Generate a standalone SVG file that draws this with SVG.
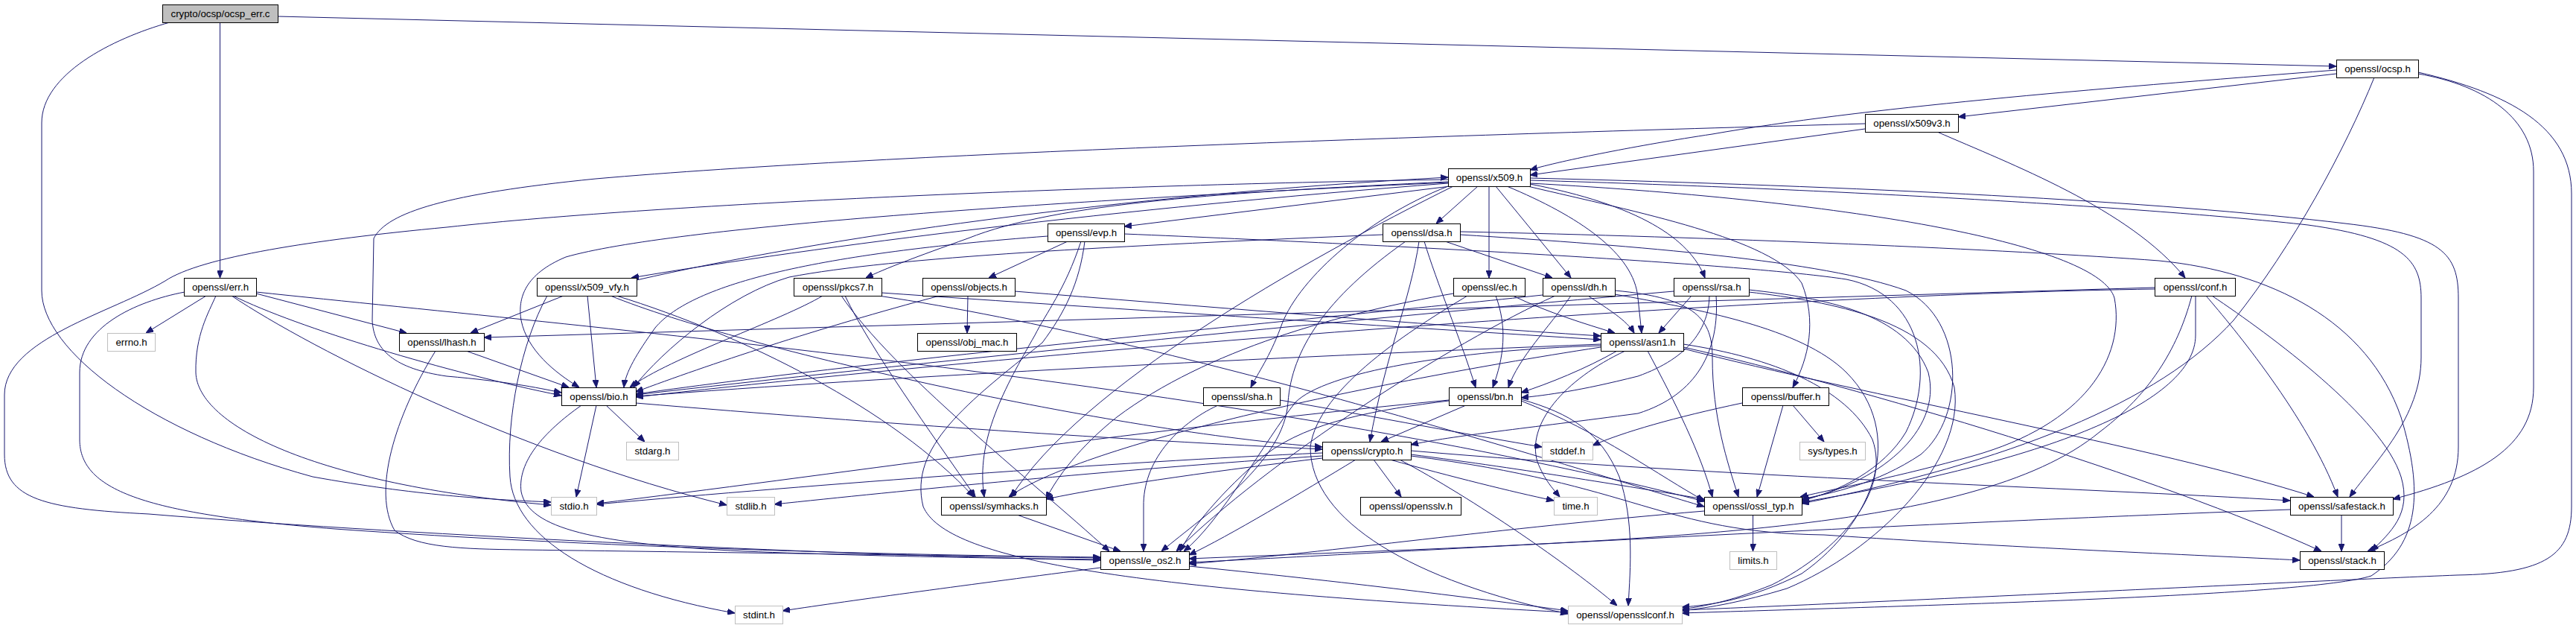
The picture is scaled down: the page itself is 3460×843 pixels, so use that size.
<svg xmlns="http://www.w3.org/2000/svg" width="3460" height="843" viewBox="0 0 3460 843">
<style>
.n rect{fill:#fff;stroke:#000;stroke-width:1}
.n.g rect{stroke:#bfbfbf}
.n.r rect{fill:#bfbfbf}
text{font-family:"Liberation Sans",Arial,Helvetica,sans-serif;font-size:13.3px;text-anchor:middle;fill:#000}
#edges path{fill:none;stroke:#191970;stroke-width:1;marker-end:url(#a)}
</style>
<defs>
<marker id="a" markerUnits="userSpaceOnUse" markerWidth="10" markerHeight="8" refX="10" refY="4" orient="auto" viewBox="0 0 10 8"><path d="M0,0 L10,4 L0,8 z" fill="#191970" stroke="#191970" stroke-width="1"/></marker>
</defs>
<rect x="0" y="0" width="3460" height="843" fill="#fff"/>
<g id="edges">
<path d="M373,22 L3138,89"/>
<path d="M295.5,30 L295.5,373"/>
<path d="M228,30 C150,52 56,100 56,165 L56,390 C56,470 200,580 420,640 C560,665 650,670 740,674"/>
<path d="M3138,99 L2630,157"/>
<path d="M3138,94 C2800,120 2500,145 2300,180 C2200,195 2100,215 2055,228"/>
<path d="M3189,104 C3150,200 3080,330 3000,430 C2900,540 2700,620 2420,676"/>
<path d="M3248,99 C3340,115 3403,160 3403,230 L3403,520 C3403,600 3330,640 3214,670"/>
<path d="M3248,97 C3370,125 3454,170 3454,260 L3454,680 C3454,745 3420,770 3300,772 C3100,780 2600,805 2259,819"/>
<path d="M2505,173 L2055,235"/>
<path d="M2602,177 C2700,220 2860,280 2935,373"/>
<path d="M2505,166 C2000,180 1200,205 800,240 C600,260 520,285 502,320 L500,430 C502,470 530,495 600,505 C680,512 720,520 754,527"/>
<path d="M1945,246 C1500,280 1100,330 848,373"/>
<path d="M1945,244 C1650,258 1420,272 1300,320 C1230,345 1190,360 1163,373"/>
<path d="M1948,250 L1510,304"/>
<path d="M1985,250 L1929,300"/>
<path d="M2000,250 L2000,373"/>
<path d="M2009,250 L2110,373"/>
<path d="M2055,247 C2200,275 2270,320 2290,373"/>
<path d="M2024,250 C2120,290 2195,340 2200,400 L2205,447"/>
<path d="M1945,241 C1500,248 900,272 600,305 C420,322 270,345 222,377 C150,420 6,455 6,530 L6,610 C6,670 60,683 200,690 C500,715 1100,745 1478,752"/>
<path d="M1945,245 C1400,270 900,305 760,345 C705,368 695,400 700,430 C708,470 745,500 778,520"/>
<path d="M2055,239 C2500,250 2900,270 3150,300 C3280,315 3302,340 3302,400 L3302,600 C3302,680 3240,715 3180,740"/>
<path d="M2055,242 C2500,255 2900,280 3100,302 C3230,320 3252,350 3252,400 L3252,480 C3252,560 3190,620 3156,667"/>
<path d="M2052,250 C2200,285 2380,320 2420,380 C2440,430 2430,480 2408,520"/>
<path d="M2055,246 C2500,270 2820,330 2840,400 C2855,480 2800,570 2650,612 C2550,640 2470,655 2418,667"/>
<path d="M1945,250 C1830,295 1740,380 1720,440 C1705,480 1690,500 1680,520"/>
<path d="M1952,250 C1750,350 1450,520 1358,667"/>
<path d="M1407,317 C1100,340 930,380 880,440 C855,475 840,500 838,520"/>
<path d="M1434,324 L1328,373"/>
<path d="M1452,324 C1430,390 1405,420 1390,450 C1350,520 1310,590 1322,667"/>
<path d="M1457,324 C1450,380 1430,420 1400,460 C1300,540 1220,600 1240,680 C1270,750 1500,790 2106,822"/>
<path d="M1510,314 C1900,330 2350,355 2480,375 C2580,395 2600,500 2560,580 C2530,630 2470,660 2420,672"/>
<path d="M1857,315 C1500,330 1200,345 1060,372 C980,395 890,470 851,520"/>
<path d="M1941,324 L2085,373"/>
<path d="M1913,324 C1930,380 1960,450 1982,520"/>
<path d="M1906,324 C1895,400 1860,480 1840,593"/>
<path d="M1888,324 C1780,400 1735,470 1730,540 C1725,620 1620,690 1560,740"/>
<path d="M1961,315 C2200,330 2450,350 2560,390 C2640,430 2640,560 2580,610 C2520,650 2460,662 2420,670"/>
<path d="M1961,311 C2300,318 2700,335 2900,350 C3050,365 3180,430 3225,560 C3255,660 3250,730 3185,773 C3100,800 2600,812 2259,823"/>
<path d="M277,397 L196,447"/>
<path d="M290,397 C280,420 262,450 263,500 C265,570 420,650 740,678"/>
<path d="M248,392 C180,405 107,440 107,500 L107,590 C107,660 200,690 450,710 C800,735 1200,745 1478,748"/>
<path d="M311,397 C420,470 700,610 976,678"/>
<path d="M313,397 C400,440 600,500 754,531"/>
<path d="M344,394 L546,447"/>
<path d="M344,392 C800,440 1700,520 2289,673"/>
<path d="M855,376 C1100,320 1500,262 1945,238"/>
<path d="M757,397 L632,447"/>
<path d="M789,397 L801,520"/>
<path d="M820,397 C1000,470 1500,580 1776,600"/>
<path d="M828,397 C1000,450 1200,550 1308,667"/>
<path d="M735,397 C700,460 680,560 685,640 C690,720 800,790 987,823"/>
<path d="M1105,397 C1050,430 900,480 846,520"/>
<path d="M1130,397 C1200,500 1380,640 1490,740"/>
<path d="M1135,397 C1170,470 1250,580 1310,667"/>
<path d="M1184,393 C1500,415 1900,440 2150,456"/>
<path d="M1180,397 C1600,460 2150,640 2289,680"/>
<path d="M1300,397 L1299,447"/>
<path d="M1262,397 C1100,440 950,490 854,526"/>
<path d="M1363,391 C1600,410 1900,435 2150,451"/>
<path d="M1952,394 C1800,420 1620,470 1500,560 C1450,600 1420,640 1405,670"/>
<path d="M1971,397 C1900,440 1770,520 1760,600 C1760,700 1900,780 2106,824"/>
<path d="M2009,397 C2025,440 2020,480 2005,520"/>
<path d="M2032,397 C2080,420 2130,435 2169,447"/>
<path d="M2072,396 C1800,425 1200,480 854,529"/>
<path d="M2089,397 C1950,460 1700,620 1580,740"/>
<path d="M2110,397 C2080,440 2040,480 2026,520"/>
<path d="M2133,397 C2160,415 2185,430 2195,447"/>
<path d="M2169,390 C2280,400 2300,430 2300,480 C2300,560 2320,620 2335,667"/>
<path d="M2169,395 C2280,415 2420,440 2480,500 C2560,580 2520,700 2420,770 C2350,805 2300,812 2259,815"/>
<path d="M2272,397 L2228,447"/>
<path d="M2296,397 C2295,440 2270,480 2200,505 C2120,525 2080,530 2043,534"/>
<path d="M2305,397 C2310,470 2280,530 2200,555 C2050,575 1950,585 1895,597"/>
<path d="M2248,391 C1800,430 1200,490 854,530"/>
<path d="M2349,389 C2450,400 2560,420 2590,500 C2610,580 2520,650 2420,671"/>
<path d="M2349,392 C2460,405 2600,430 2625,520 C2640,620 2520,740 2400,790 C2340,808 2300,815 2259,820"/>
<path d="M2894,388 C2400,395 1500,460 854,533"/>
<path d="M2894,386 L650,453"/>
<path d="M2944,397 C2930,450 2900,520 2820,580 C2650,720 2200,725 1597,750"/>
<path d="M2949,397 L2949,450 C2949,540 2750,620 2420,674"/>
<path d="M2963,397 C3000,440 3100,560 3140,667"/>
<path d="M2971,397 C3050,450 3200,560 3225,640 C3240,690 3210,715 3185,740"/>
<path d="M626,471 L764,520"/>
<path d="M585,471 C530,560 500,660 530,712 C560,735 620,737 700,738 C1000,742 1300,746 1478,749"/>
<path d="M2150,462 C1700,480 1200,505 854,532"/>
<path d="M2172,471 C2130,495 2080,515 2043,527"/>
<path d="M2183,471 C2100,510 2050,570 2065,620 C2075,645 2085,655 2095,667"/>
<path d="M2213,471 C2250,540 2285,610 2300,667"/>
<path d="M2261,462 C2380,480 2480,520 2515,590 C2540,660 2470,740 2380,785 C2330,805 2300,812 2259,818"/>
<path d="M2150,464 C1950,470 1780,500 1740,540 C1700,590 1640,700 1590,740"/>
<path d="M2261,466 C2500,520 2900,640 3118,740"/>
<path d="M2261,468 C2500,530 2900,600 3108,667"/>
<path d="M2150,466 C1800,520 1450,600 1355,667"/>
<path d="M781,544 C730,580 695,620 700,660 C710,710 800,730 1000,740 C1200,748 1400,750 1478,751"/>
<path d="M801,544 L774,667"/>
<path d="M814,544 L866,593"/>
<path d="M854,541 C1200,570 1500,590 1776,603"/>
<path d="M1636,544 C1580,570 1535,620 1536,680 L1536,740"/>
<path d="M1719,537 C1850,560 1980,585 2071,600"/>
<path d="M1969,544 L1855,593"/>
<path d="M1946,537 C1500,580 1100,640 801,676"/>
<path d="M1946,538 C1850,550 1760,565 1700,610 C1640,660 1600,710 1585,740"/>
<path d="M2043,538 C2150,580 2230,640 2289,672"/>
<path d="M2043,536 C2110,555 2150,580 2175,640 C2195,700 2190,760 2187,813"/>
<path d="M2340,541 C2250,560 2180,580 2139,598"/>
<path d="M2395,544 L2360,667"/>
<path d="M2408,544 L2450,593"/>
<path d="M1776,608 C1500,620 1100,650 801,677"/>
<path d="M1776,612 C1500,630 1200,660 1040,677"/>
<path d="M1776,615 C1650,630 1500,650 1405,670"/>
<path d="M1821,617 C1750,660 1650,720 1597,745"/>
<path d="M1845,617 L1882,667"/>
<path d="M1867,617 C1950,640 2030,660 2087,672"/>
<path d="M1880,617 C1980,670 2110,760 2172,813"/>
<path d="M1895,610 C2050,630 2200,655 2289,670"/>
<path d="M1895,605 C2300,640 2800,655 3076,672"/>
<path d="M1895,612 C2200,650 2230,715 2450,718 C2700,735 2950,745 3089,752"/>
<path d="M2354.5,691 L2354.5,740"/>
<path d="M2289,686 C2000,710 1800,740 1597,757"/>
<path d="M1366,691 L1505,740"/>
<path d="M3145,691 L3145,740"/>
<path d="M3076,684 C2500,705 1900,740 1597,755"/>
<path d="M1597,760 C1800,780 2000,805 2106,820"/>
<path d="M1478,762 C1300,785 1150,805 1051,820"/>
</g>
<g id="n_ocsp_err" class="n r"><rect x="218.5" y="6.5" width="155" height="24"/><text x="296" y="23">crypto/ocsp/ocsp_err.c</text></g>
<g id="n_ocsp" class="n"><rect x="3138.5" y="80.5" width="110" height="24"/><text x="3193.5" y="97">openssl/ocsp.h</text></g>
<g id="n_x509v3" class="n"><rect x="2505.5" y="153.5" width="125" height="24"/><text x="2568" y="170">openssl/x509v3.h</text></g>
<g id="n_x509" class="n"><rect x="1945.5" y="226.5" width="110" height="24"/><text x="2000.5" y="243">openssl/x509.h</text></g>
<g id="n_dsa" class="n"><rect x="1857.5" y="300.5" width="104" height="24"/><text x="1909.5" y="317">openssl/dsa.h</text></g>
<g id="n_evp" class="n"><rect x="1407.5" y="300.5" width="103" height="24"/><text x="1459" y="317">openssl/evp.h</text></g>
<g id="n_err" class="n"><rect x="247.5" y="373.5" width="97" height="24"/><text x="296" y="390">openssl/err.h</text></g>
<g id="n_x509_vfy" class="n"><rect x="721.5" y="373.5" width="134" height="24"/><text x="788.5" y="390">openssl/x509_vfy.h</text></g>
<g id="n_pkcs7" class="n"><rect x="1066.5" y="373.5" width="118" height="24"/><text x="1125.5" y="390">openssl/pkcs7.h</text></g>
<g id="n_objects" class="n"><rect x="1239.5" y="373.5" width="124" height="24"/><text x="1301.5" y="390">openssl/objects.h</text></g>
<g id="n_ec" class="n"><rect x="1952.5" y="373.5" width="96" height="24"/><text x="2000.5" y="390">openssl/ec.h</text></g>
<g id="n_dh" class="n"><rect x="2072.5" y="373.5" width="97" height="24"/><text x="2121" y="390">openssl/dh.h</text></g>
<g id="n_rsa" class="n"><rect x="2248.5" y="373.5" width="101" height="24"/><text x="2299" y="390">openssl/rsa.h</text></g>
<g id="n_conf" class="n"><rect x="2894.5" y="373.5" width="108" height="24"/><text x="2948.5" y="390">openssl/conf.h</text></g>
<g id="n_errno" class="n g"><rect x="144.5" y="447.5" width="64" height="24"/><text x="176.5" y="464">errno.h</text></g>
<g id="n_lhash" class="n"><rect x="536.5" y="447.5" width="114" height="24"/><text x="593.5" y="464">openssl/lhash.h</text></g>
<g id="n_obj_mac" class="n"><rect x="1232.5" y="447.5" width="133" height="24"/><text x="1299" y="464">openssl/obj_mac.h</text></g>
<g id="n_asn1" class="n"><rect x="2150.5" y="447.5" width="111" height="24"/><text x="2206" y="464">openssl/asn1.h</text></g>
<g id="n_bio" class="n"><rect x="754.5" y="520.5" width="100" height="24"/><text x="804.5" y="537">openssl/bio.h</text></g>
<g id="n_sha" class="n"><rect x="1616.5" y="520.5" width="103" height="24"/><text x="1668" y="537">openssl/sha.h</text></g>
<g id="n_bn" class="n"><rect x="1946.5" y="520.5" width="97" height="24"/><text x="1995" y="537">openssl/bn.h</text></g>
<g id="n_buffer" class="n"><rect x="2340.5" y="520.5" width="116" height="24"/><text x="2398.5" y="537">openssl/buffer.h</text></g>
<g id="n_stdarg" class="n g"><rect x="841.5" y="593.5" width="70" height="24"/><text x="876.5" y="610">stdarg.h</text></g>
<g id="n_crypto" class="n"><rect x="1776.5" y="593.5" width="119" height="24"/><text x="1836" y="610">openssl/crypto.h</text></g>
<g id="n_stddef" class="n g"><rect x="2071.5" y="593.5" width="68" height="24"/><text x="2105.5" y="610">stddef.h</text></g>
<g id="n_systypes" class="n g"><rect x="2417.5" y="593.5" width="88" height="24"/><text x="2461.5" y="610">sys/types.h</text></g>
<g id="n_stdio" class="n g"><rect x="740.5" y="667.5" width="61" height="24"/><text x="771" y="684">stdio.h</text></g>
<g id="n_stdlib" class="n g"><rect x="976.5" y="667.5" width="64" height="24"/><text x="1008.5" y="684">stdlib.h</text></g>
<g id="n_symhacks" class="n"><rect x="1264.5" y="667.5" width="141" height="24"/><text x="1335" y="684">openssl/symhacks.h</text></g>
<g id="n_opensslv" class="n"><rect x="1827.5" y="667.5" width="135" height="24"/><text x="1895" y="684">openssl/opensslv.h</text></g>
<g id="n_time" class="n g"><rect x="2087.5" y="667.5" width="58" height="24"/><text x="2116.5" y="684">time.h</text></g>
<g id="n_ossl_typ" class="n"><rect x="2289.5" y="667.5" width="131" height="24"/><text x="2355" y="684">openssl/ossl_typ.h</text></g>
<g id="n_safestack" class="n"><rect x="3076.5" y="667.5" width="138" height="24"/><text x="3145.5" y="684">openssl/safestack.h</text></g>
<g id="n_e_os2" class="n"><rect x="1478.5" y="740.5" width="119" height="24"/><text x="1538" y="757">openssl/e_os2.h</text></g>
<g id="n_limits" class="n g"><rect x="2323.5" y="740.5" width="63" height="24"/><text x="2355" y="757">limits.h</text></g>
<g id="n_stack" class="n"><rect x="3089.5" y="740.5" width="113" height="24"/><text x="3146" y="757">openssl/stack.h</text></g>
<g id="n_stdint" class="n g"><rect x="987.5" y="813.5" width="64" height="24"/><text x="1019.5" y="830">stdint.h</text></g>
<g id="n_opensslconf" class="n g"><rect x="2106.5" y="813.5" width="153" height="24"/><text x="2183" y="830">openssl/opensslconf.h</text></g>
</svg>
